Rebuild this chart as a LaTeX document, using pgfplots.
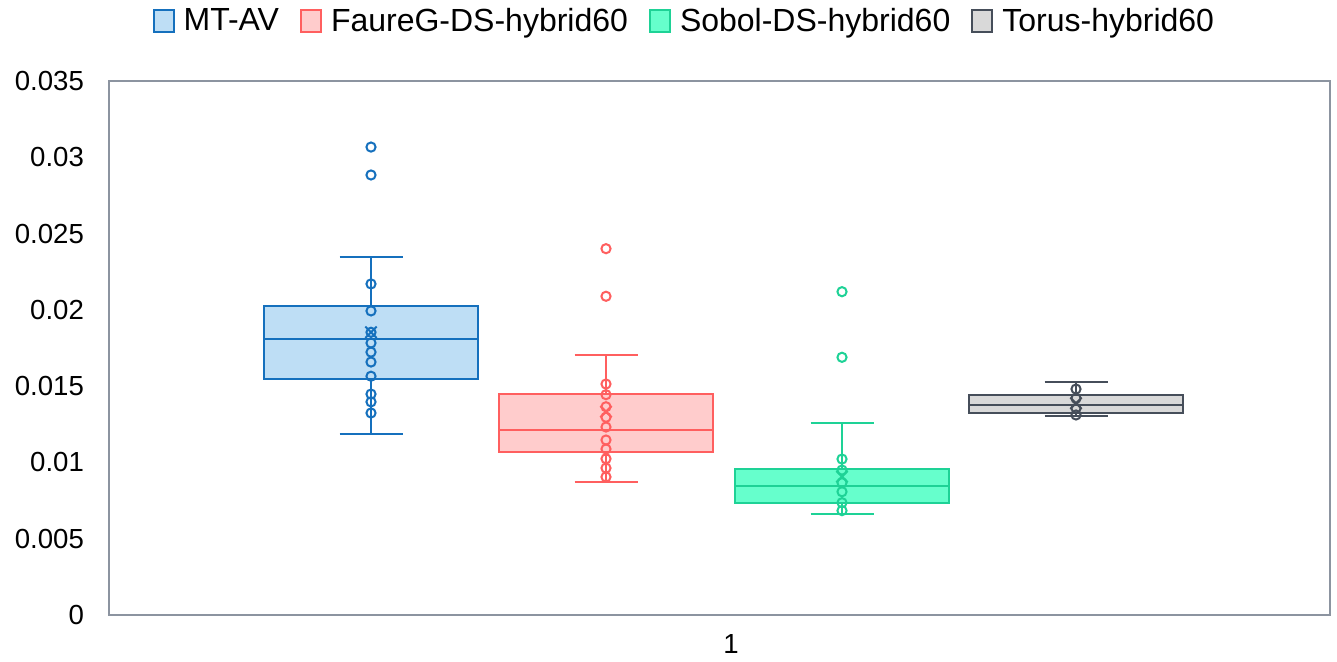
\documentclass[border=0pt]{standalone}
\usepackage{pgfplots}
\pgfplotsset{compat=1.18}
\usepackage{fontspec}
\setmainfont{Liberation Sans}
\definecolor{cA}{RGB}{21,112,189}
\definecolor{fA}{RGB}{190,222,245}
\definecolor{cB}{RGB}{255,95,95}
\definecolor{fB}{RGB}{255,204,204}
\definecolor{cC}{RGB}{30,210,150}
\definecolor{fC}{RGB}{102,255,204}
\definecolor{cD}{RGB}{70,78,90}
\definecolor{fD}{RGB}{217,217,217}
\definecolor{axc}{RGB}{140,148,160}
\begin{document}
\begin{tikzpicture}
\path[use as bounding box] (-54.5pt,-23.5pt) rectangle (614pt,307.5pt);
\begin{axis}[
  scale only axis, width=610.5pt, height=267pt,
  xmin=0, xmax=1221, ymin=0, ymax=35,
  axis line style={axc, line width=0.8pt},
  major tick length=0pt,
  xtick={622}, xticklabels={1},
  ytick={0,5,10,15,20,25,30,35},
  yticklabels={0,0.005,0.01,0.015,0.02,0.025,0.03,0.035},
  yticklabel style={font=\fontsize{13.8}{16}\selectfont, xshift=-9pt},
  xticklabel style={font=\fontsize{13.8}{16}\selectfont, yshift=-6pt},
  legend columns=4,
  legend style={at={(0.472,1)}, anchor=center, yshift=30pt, draw=none, font=\fontsize{16}{18}\selectfont,
    /tikz/every odd column/.append style={column sep=2.5pt},
    /tikz/every even column/.append style={column sep=8.5pt}},
  legend image code/.code={\draw[#1, line width=1pt] (0pt,-5.5pt) rectangle (10pt,5.5pt);},
  clip=false,
]
% ---- MT-AV
\addplot[draw=cA, fill=fA, line width=1pt] coordinates {(155,15.47)(369,15.47)(369,20.25)(155,20.25)} -- cycle;
\addlegendentry{MT-AV}
\addplot[forget plot, cA, line width=1pt] coordinates {(155,18.09)(369,18.09)};
\addplot[forget plot, cA, line width=1pt] coordinates {(262,20.25)(262,23.46)};
\addplot[forget plot, cA, line width=1pt] coordinates {(230.5,23.46)(293.5,23.46)};
\addplot[forget plot, cA, line width=1pt] coordinates {(262,15.47)(262,11.86)};
\addplot[forget plot, cA, line width=1pt] coordinates {(230.5,11.86)(293.5,11.86)};
% ---- FaureG
\addplot[draw=cB, fill=fB, line width=1pt] coordinates {(390,10.68)(604,10.68)(604,14.47)(390,14.47)} -- cycle;
\addlegendentry{FaureG-DS-hybrid60}
\addplot[forget plot, cB, line width=1pt] coordinates {(390,12.11)(604,12.11)};
\addplot[forget plot, cB, line width=1pt] coordinates {(497,14.47)(497,17.02)};
\addplot[forget plot, cB, line width=1pt] coordinates {(465.5,17.02)(528.5,17.02)};
\addplot[forget plot, cB, line width=1pt] coordinates {(497,10.68)(497,8.70)};
\addplot[forget plot, cB, line width=1pt] coordinates {(465.5,8.70)(528.5,8.70)};
% ---- Sobol
\addplot[draw=cC, fill=fC, line width=1pt] coordinates {(626,7.36)(840,7.36)(840,9.55)(626,9.55)} -- cycle;
\addlegendentry{Sobol-DS-hybrid60}
\addplot[forget plot, cC, line width=1pt] coordinates {(626,8.46)(840,8.46)};
\addplot[forget plot, cC, line width=1pt] coordinates {(733,9.55)(733,12.56)};
\addplot[forget plot, cC, line width=1pt] coordinates {(701.5,12.56)(764.5,12.56)};
\addplot[forget plot, cC, line width=1pt] coordinates {(733,7.36)(733,6.62)};
\addplot[forget plot, cC, line width=1pt] coordinates {(701.5,6.62)(764.5,6.62)};
% ---- Torus
\addplot[draw=cD, fill=fD, line width=1pt] coordinates {(860,13.26)(1074,13.26)(1074,14.42)(860,14.42)} -- cycle;
\addlegendentry{Torus-hybrid60}
\addplot[forget plot, cD, line width=1pt] coordinates {(860,13.76)(1074,13.76)};
\addplot[forget plot, cD, line width=1pt] coordinates {(967,14.42)(967,15.29)};
\addplot[forget plot, cD, line width=1pt] coordinates {(935.5,15.29)(998.5,15.29)};
\addplot[forget plot, cD, line width=1pt] coordinates {(967,13.26)(967,13.04)};
\addplot[forget plot, cD, line width=1pt] coordinates {(935.5,13.04)(998.5,13.04)};
% points
\addplot[forget plot, only marks, mark=o, mark size=2.3pt, cA, line width=1pt] coordinates {
(262,30.67)(262,28.84)(262,21.70)(262,19.93)(262,18.53)(262,17.83)(262,17.23)(262,16.58)(262,15.65)(262,14.48)(262,13.97)(262,13.24)};
\addplot[forget plot, only marks, mark=o, mark size=2.3pt, cB, line width=1pt] coordinates {
(497,24.01)(497,20.89)(497,15.14)(497,14.44)(497,13.65)(497,12.96)(497,12.32)(497,11.47)(497,10.88)(497,10.24)(497,9.63)(497,9.05)};
\addplot[forget plot, only marks, mark=o, mark size=2.3pt, cC, line width=1pt] coordinates {
(733,21.19)(733,16.89)(733,10.22)(733,9.50)(733,8.67)(733,8.08)(733,7.36)(733,6.84)};
\addplot[forget plot, only marks, mark=o, mark size=2.3pt, cD, line width=1pt] coordinates {
(967,14.81)(967,14.20)(967,13.55)(967,13.11)};
% means
\addplot[forget plot, only marks, mark=x, mark size=4pt, cA, line width=1pt] coordinates {(262,18.53)};
\addplot[forget plot, only marks, mark=x, mark size=4pt, cB, line width=1pt] coordinates {(497,13.33)};
\addplot[forget plot, only marks, mark=x, mark size=4pt, cC, line width=1pt] coordinates {(733,9.07)};
\addplot[forget plot, only marks, mark=x, mark size=4pt, cD, line width=1pt] coordinates {(967,13.88)};
\end{axis}
\end{tikzpicture}
\end{document}
